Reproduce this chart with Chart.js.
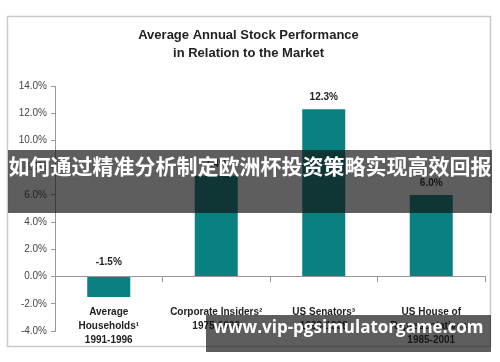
<!DOCTYPE html>
<html>
<head>
<meta charset="utf-8">
<script src="https://cdn.jsdelivr.net/npm/chart.js@4/dist/chart.umd.min.js"></script>
<style>
  html, body { margin: 0; padding: 0; background: #fff; }
  #wrap { position: relative; width: 500px; height: 362px; overflow: hidden; }
  canvas { position: absolute; left: 0; top: 0; }
  .band { position: absolute; background: rgba(18,18,18,0.68); color: #fff; text-align: center; white-space: nowrap; }
  #band1 { left: 8px; top: 150px; width: 484px; height: 63px; line-height: 63px; font: bold 21px "Noto Sans CJK SC", sans-serif; }
  #band2 { left: 206px; top: 315px; width: 285px; height: 37px; line-height: 36px; font: bold 17px "Open Sans", sans-serif; }
</style>
</head>
<body>
<div id="wrap">
  <canvas id="c" width="500" height="362"></canvas>
  <div class="band" id="band1">如何通过精准分析制定欧洲杯投资策略实现高效回报</div>
  <div class="band" id="band2">www.vip-pgsimulatorgame.com</div>
</div>
<script>
// ---- data ----
const titleLines = ["Average Annual Stock Performance", "in Relation to the Market"];
const categories = [
  ["Average", "Households\u00B9", "1991-1996"],
  ["Corporate Insiders\u00B2", "1975-1996"],
  ["US Senators\u00B3", "1993-1998"],
  ["US House of", "Representatives\u2074", "1985-2001"]
];
const returns = [-1.5, 7.4, 12.3, 6.0];
const yMin = -4, yMax = 14, yStep = 2;

const FONT = '"Liberation Sans", Arial, sans-serif';

const decor = {
  id: 'decor',
  beforeDraw(chart) {
    const ctx = chart.ctx;
    ctx.save();
    ctx.fillStyle = '#fff';
    ctx.fillRect(0, 0, chart.width, chart.height);
    ctx.strokeStyle = '#c9c9c9';
    ctx.lineWidth = 1.5;
    ctx.strokeRect(7.5, 16.5, 483, 330);
    ctx.fillStyle = '#222';
    ctx.font = 'bold 13px ' + FONT;
    ctx.textAlign = 'center';
    ctx.textBaseline = 'middle';
    ctx.fillText(titleLines[0], 248.5, 35);
    ctx.fillText(titleLines[1], 248.5, 53);
    ctx.restore();
  },
  afterDatasetsDraw(chart) {
    const ctx = chart.ctx;
    const xs = chart.scales.x, ys = chart.scales.y;
    const zero = ys.getPixelForValue(0);
    const meta = chart.getDatasetMeta(0);
    ctx.save();
    ctx.fillStyle = '#222';
    ctx.font = 'bold 10px ' + FONT;
    ctx.textAlign = 'center';
    ctx.textBaseline = 'middle';
    meta.data.forEach((bar, i) => {
      const v = returns[i];
      const y = v >= 0 ? bar.y - 12 : zero - 14;
      ctx.fillText(v.toFixed(1) + '%', bar.x, y);
    });
    categories.forEach((lines, i) => {
      const x = xs.getPixelForValue(i);
      lines.forEach((t, j) => {
        ctx.fillText(t, x, 312 + j * 14);
      });
    });
    ctx.restore();
  }
};

new Chart(document.getElementById('c'), {
  type: 'bar',
  data: {
    labels: categories.map(c => c.join(' ')),
    datasets: [{
      data: returns,
      backgroundColor: '#0a8080',
      borderWidth: 0,
      categoryPercentage: 0.4,
      barPercentage: 1.0
    }]
  },
  options: {
    responsive: false,
    animation: false,
    devicePixelRatio: 1,
    layout: { padding: { left: 0, top: 86, right: 15, bottom: 31 } },
    plugins: { legend: { display: false }, tooltip: { enabled: false }, title: { display: false } },
    scales: {
      x: {
        position: { y: 0 },
        offset: true,
        grid: { offset: true, drawOnChartArea: false, tickLength: 5, color: '#999', tickColor: '#999' },
        border: { display: true, color: '#999', width: 1 },
        ticks: { display: false }
      },
      y: {
        min: yMin, max: yMax,
        afterFit(scale) { scale.width = 55; },
        ticks: {
          stepSize: yStep,
          padding: 4,
          color: '#444',
          font: { family: FONT, size: 10 },
          callback: v => v.toFixed(1) + '%'
        },
        grid: { drawOnChartArea: false, tickLength: 4, color: '#999', tickColor: '#999' },
        border: { display: true, color: '#999', width: 1 }
      }
    }
  },
  plugins: [decor]
});
</script>
</body>
</html>
